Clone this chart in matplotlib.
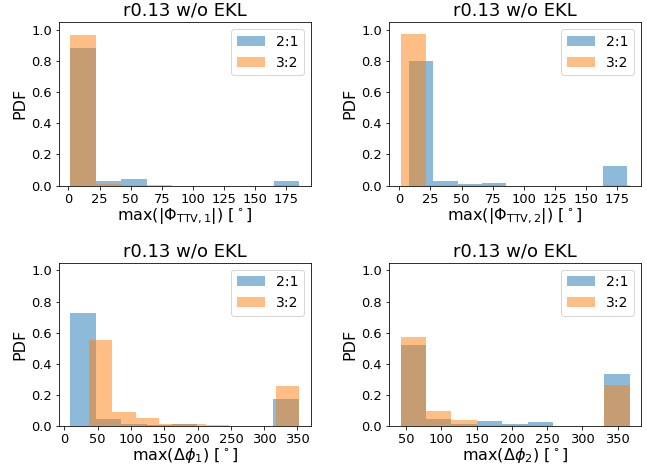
import numpy as np
import matplotlib
matplotlib.use("Agg")
import matplotlib.pyplot as plt
from matplotlib.ticker import MultipleLocator

labels = ["2:1", "3:2"]
title = "r0.13 w/o EKL"
xlabels = [r"max($|\Phi_{\rm TTV,1}|$) [$^\circ$]",
           r"max($|\Phi_{\rm TTV,2}|$) [$^\circ$]",
           r"max($\Delta\phi_1$) [$^\circ$]",
           r"max($\Delta\phi_2$) [$^\circ$]"]
xstep = [25, 25, 50, 50]

# bin ranges (lo, hi) of the 9 bins
range_21 = [(1.5, 185.5), (8.0, 183.0), (9.0, 352.0), (42.0, 367.0)]
range_32 = [(1.5, 185.5), (1.0, 185.0), (37.0, 353.0), (42.0, 367.0)]

# fraction per bin
pdf_21 = [
    [0.885, 0.027, 0.040, 0.0, 0.0, 0.0, 0.0, 0.0, 0.033],
    [0.800, 0.030, 0.010, 0.017, 0.0, 0.0, 0.0, 0.0, 0.123],
    [0.730, 0.046, 0.015, 0.010, 0.015, 0.005, 0.003, 0.005, 0.173],
    [0.525, 0.046, 0.015, 0.034, 0.016, 0.027, 0.0, 0.0, 0.337],
]
pdf_32 = [
    [0.965, 0.008, 0.005, 0.005, 0.0, 0.0, 0.0, 0.0, 0.004],
    [0.972, 0.005, 0.005, 0.003, 0.0, 0.0, 0.0, 0.0, 0.005],
    [0.556, 0.090, 0.053, 0.015, 0.015, 0.010, 0.0, 0.0, 0.261],
    [0.575, 0.097, 0.040, 0.008, 0.012, 0.010, 0.002, 0.002, 0.263],
]

fig, axes = plt.subplots(2, 2, figsize=(647 / 72, 466 / 72), dpi=72)
plt.subplots_adjust(left=0.091, right=0.991, top=0.953, bottom=0.085,
                    wspace=0.31, hspace=0.47)

for i, ax in enumerate(axes.flat):
    for rng, pdf, lab in [(range_21[i], pdf_21[i], labels[0]),
                          (range_32[i], pdf_32[i], labels[1])]:
        edges = np.linspace(rng[0], rng[1], len(pdf) + 1)
        centers = 0.5 * (edges[1:] + edges[:-1])
        ax.hist(centers, bins=edges, weights=pdf, alpha=0.5, label=lab)
    ax.set_ylim(0, 1.05)
    ax.set_yticks([0, 0.2, 0.4, 0.6, 0.8, 1.0])
    ax.xaxis.set_major_locator(MultipleLocator(xstep[i]))
    ax.set_title(title, fontsize=18)
    ax.set_xlabel(xlabels[i], fontsize=16, labelpad=0)
    ax.set_ylabel("PDF", fontsize=16)
    ax.tick_params(axis="both", labelsize=13)
    ax.legend(fontsize=14, loc="upper right")

fig.savefig("out.png", dpi=72)
